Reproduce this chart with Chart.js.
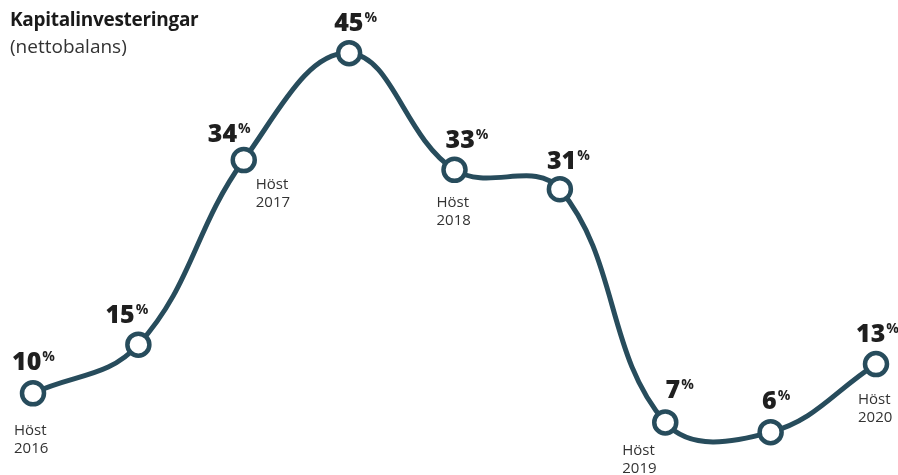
<!DOCTYPE html>
<html>
<head>
<meta charset="utf-8">
<script src="https://cdn.jsdelivr.net/npm/chart.js@4/dist/chart.umd.min.js"></script>
<style>
  body { margin: 0; background: #fff; }
  #wrap { position: relative; width: 898px; height: 475px; }
  .ttl { position: absolute; left: 10px; font-family: "Open Sans", sans-serif; color: #1a1a1a; }
  #t1 { top: 6px; font-size: 19px; font-weight: 700; letter-spacing: -0.3px; }
  #t2 { top: 33px; font-size: 19px; color: #333; }
</style>
</head>
<body>
<div id="wrap">
  <canvas id="kapital" width="898" height="475"></canvas>
  <div class="ttl" id="t1">Kapitalinvesteringar</div>
  <div class="ttl" id="t2">(nettobalans)</div>
</div>
<script>
var periods = ['2016H', '2017V', '2017H', '2018V', '2018H', '2019V', '2019H', '2020V', '2020H'];
var values = [10, 15, 34, 45, 33, 31, 7, 6, 13];
var seasonLabels = ['Höst\n2016', '', 'Höst\n2017', '', 'Höst\n2018', '', 'Höst\n2019', '', 'Höst\n2020'];

// label offsets (from point)
var valueDx = [0, -12, -15, 6, 12, 8, 14, 5, 1];
var valueDy = [-23, -22, -18, -22, -22, -20, -24, -23, -22];
var seasonDx = [-19, 0, 12, 0, -18, 0, -43, 0, -18];
var seasonDy = [37, 0, 25, 0, 33, 0, 28, 0, 36];

var lineColor = '#274c5c';

var labelPlugin = {
  id: 'pointLabels',
  afterDatasetsDraw: function(chart) {
    var ctx = chart.ctx;
    var meta = chart.getDatasetMeta(0);
    ctx.save();
    meta.data.forEach(function(pt, i) {
      // value with small superscript %
      var num = String(values[i]);
      ctx.font = '800 25px "Open Sans"';
      var w1 = ctx.measureText(num).width;
      ctx.font = '700 14px "Open Sans"';
      var w2 = ctx.measureText('%').width;
      var left = pt.x + valueDx[i] - (w1 + w2) / 2;
      var base = pt.y + valueDy[i];
      ctx.fillStyle = '#1f1f1f';
      ctx.textBaseline = 'alphabetic';
      ctx.textAlign = 'left';
      ctx.font = '800 25px "Open Sans"';
      ctx.fillText(num, left, base);
      ctx.font = '700 14px "Open Sans"';
      ctx.fillText('%', left + w1 + 1, base - 9);

      if (seasonLabels[i]) {
        ctx.font = '15px "Open Sans"';
        ctx.fillStyle = '#333';
        ctx.textBaseline = 'middle';
        seasonLabels[i].split('\n').forEach(function(line, j) {
          ctx.fillText(line, pt.x + seasonDx[i], pt.y + seasonDy[i] + j * 18);
        });
      }
    });
    ctx.restore();
  }
};

new Chart(document.getElementById('kapital').getContext('2d'), {
  type: 'line',
  data: {
    labels: periods,
    datasets: [{
      data: values,
      borderColor: lineColor,
      borderWidth: 5,
      tension: 0.4,
      fill: false,
      pointRadius: 11,
      pointBorderWidth: 4.5,
      pointBackgroundColor: '#fff',
      pointBorderColor: lineColor,
      clip: false
    }]
  },
  options: {
    responsive: false,
    animation: false,
    layout: { autoPadding: false, padding: { left: 33, right: 22, top: 24, bottom: 4 } },
    plugins: {
      legend: { display: false },
      tooltip: { enabled: false }
    },
    scales: {
      x: { display: false, offset: false },
      y: { display: false, min: 2, max: 48 }
    }
  },
  plugins: [labelPlugin]
});
</script>
</body>
</html>
